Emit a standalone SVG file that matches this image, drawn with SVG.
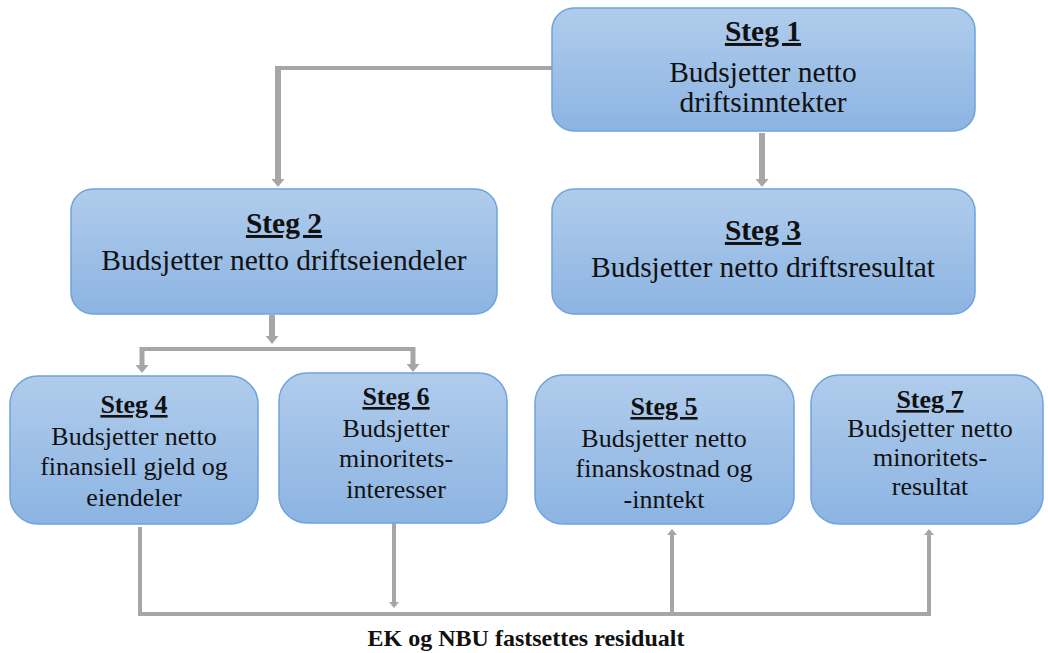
<svg xmlns="http://www.w3.org/2000/svg" width="1048" height="653" viewBox="0 0 1048 653">
<defs>
<linearGradient id="boxfill" x1="0" y1="0" x2="0" y2="1">
<stop offset="0" stop-color="#b0ccec"/>
<stop offset="1" stop-color="#8cb4e2"/>
</linearGradient>
<marker id="arr" viewBox="0 0 8 13" refX="1" refY="6.5" markerWidth="8" markerHeight="13" markerUnits="userSpaceOnUse" orient="auto">
<path d="M0,0 L8,6.5 L0,13 z" fill="#a6a6a6"/>
</marker>
<marker id="arrs" viewBox="0 0 6 10" refX="1" refY="5" markerWidth="6" markerHeight="10" markerUnits="userSpaceOnUse" orient="auto">
<path d="M0,0 L6,5 L0,10 z" fill="#a6a6a6"/>
</marker>
</defs>
<style>
.box{fill:url(#boxfill);stroke:#6fa3dc;stroke-width:1.5}
.t{font-family:"Liberation Serif","Times New Roman","DejaVu Serif",serif;fill:#111;text-anchor:middle}
.big{font-size:29.5px}
.sm{font-size:26px}
.h{font-weight:bold;text-decoration:underline}
.c{fill:none;stroke:#a6a6a6}
</style>
<g id="connectors">
<path class="c" d="M552,68 H278" stroke-width="4"/>
<path class="c" d="M278,66 V180" stroke-width="6" marker-end="url(#arr)"/>
<path class="c" d="M762,133 V180" stroke-width="6" marker-end="url(#arr)"/>
<path class="c" d="M272,315 V337" stroke-width="6" marker-end="url(#arr)"/>
<path class="c" d="M140,349 H415" stroke-width="4"/>
<path class="c" d="M142,347 V366" stroke-width="5" marker-end="url(#arr)"/>
<path class="c" d="M413,347 V365" stroke-width="5" marker-end="url(#arr)"/>
<path class="c" d="M140,527 V614" stroke-width="4"/>
<path class="c" d="M138,614 H931" stroke-width="4"/>
<path class="c" d="M394,523 V603" stroke-width="4" marker-end="url(#arrs)"/>
<path class="c" d="M672,614 V534" stroke-width="4" marker-end="url(#arrs)"/>
<path class="c" d="M929,616 V534" stroke-width="4" marker-end="url(#arrs)"/>
</g>
<g id="steg1">
<rect class="box" x="552" y="8" width="423" height="123" rx="22"/>
<text class="t big h" x="763" y="41">Steg 1</text>
<text class="t big" x="763" y="82">Budsjetter netto</text>
<text class="t big" x="763" y="112">driftsinntekter</text>
</g>
<g id="steg2">
<rect class="box" x="71" y="189" width="426" height="125" rx="22"/>
<text class="t big h" x="284" y="233">Steg 2</text>
<text class="t big" x="284" y="270">Budsjetter netto driftseiendeler</text>
</g>
<g id="steg3">
<rect class="box" x="552" y="189" width="423" height="125" rx="22"/>
<text class="t big h" x="763" y="240">Steg 3</text>
<text class="t big" x="763" y="277">Budsjetter netto driftsresultat</text>
</g>
<g id="steg4">
<rect class="box" x="10" y="376" width="248" height="148" rx="28"/>
<text class="t sm h" x="134" y="413">Steg 4</text>
<text class="t sm" x="134" y="445">Budsjetter netto</text>
<text class="t sm" x="134" y="475">finansiell gjeld og</text>
<text class="t sm" x="134" y="506">eiendeler</text>
</g>
<g id="steg6">
<rect class="box" x="279" y="373" width="228" height="150" rx="28"/>
<text class="t sm h" x="396" y="405">Steg 6</text>
<text class="t sm" x="396" y="437">Budsjetter</text>
<text class="t sm" x="396" y="467">minoritets-</text>
<text class="t sm" x="396" y="498">interesser</text>
</g>
<g id="steg5">
<rect class="box" x="535" y="375" width="259" height="149" rx="28"/>
<text class="t sm h" x="664" y="415">Steg 5</text>
<text class="t sm" x="664" y="447">Budsjetter netto</text>
<text class="t sm" x="664" y="477">finanskostnad og</text>
<text class="t sm" x="664" y="508">-inntekt</text>
</g>
<g id="steg7">
<rect class="box" x="811" y="375" width="232" height="149" rx="28"/>
<text class="t sm h" x="930" y="408">Steg 7</text>
<text class="t sm" x="930" y="437">Budsjetter netto</text>
<text class="t sm" x="930" y="466">minoritets-</text>
<text class="t sm" x="930" y="495">resultat</text>
</g>
<g id="residual">
<text class="t" x="526" y="646" font-size="24" font-weight="bold">EK og NBU fastsettes residualt</text>
</g>
</svg>
